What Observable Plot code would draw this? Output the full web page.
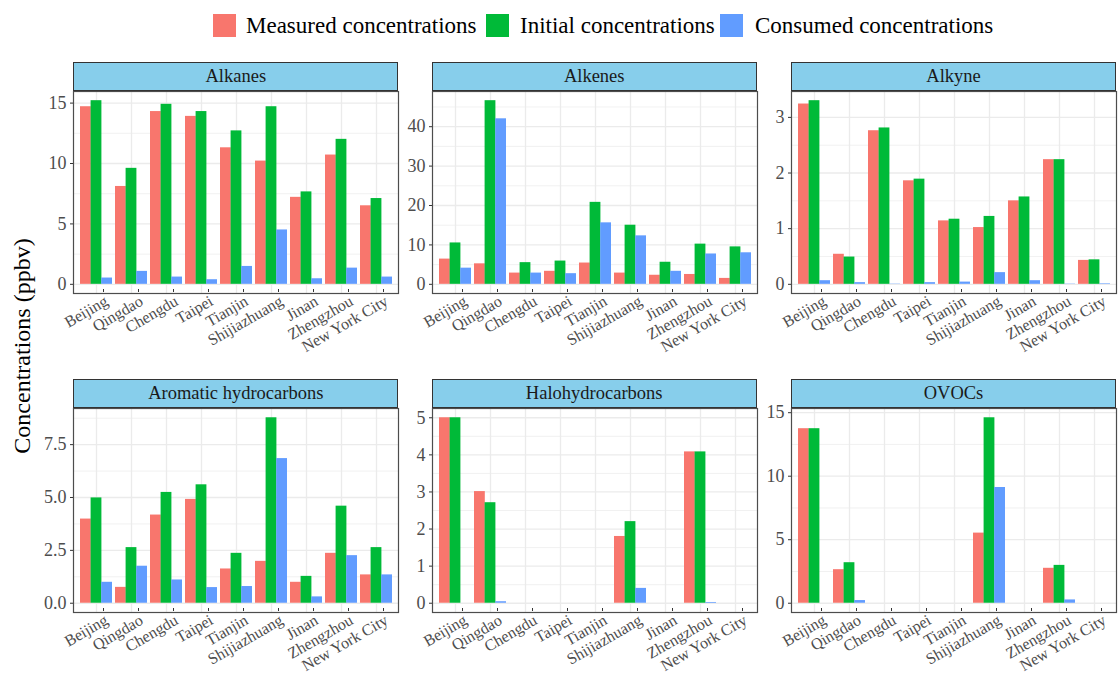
<!DOCTYPE html>
<html>
<head>
<meta charset="utf-8">
<script src="https://cdn.jsdelivr.net/npm/d3@7"></script>
<script src="https://cdn.jsdelivr.net/npm/@observablehq/plot@0.6"></script>
<style>
  body { margin: 0; background: #fff; }
  #root { position: relative; width: 1120px; height: 675px; overflow: hidden; font-family: "Liberation Serif", "Times New Roman", serif; background: #fff; }
  .strip { position: absolute; box-sizing: border-box; background: #87CEEB; border: 1px solid #333; color: #1a1a1a; font-size: 18.5px; text-align: center; line-height: 27px; }
  .plotbox { position: absolute; }
  .plotbox svg { overflow: visible; }
  .key { position: absolute; width: 23px; height: 23px; }
  .ktext { position: absolute; font-size: 23px; line-height: 24px; color: #000; white-space: nowrap; }
  #ytitle { position: absolute; font-size: 24px; color: #000; white-space: nowrap; transform: translate(-50%, -50%) rotate(-90deg); }
</style>
</head>
<body>
<div id="root"></div>
<script>
// ---------------- data ----------------
const cities = ["Beijing", "Qingdao", "Chengdu", "Taipei", "Tianjin", "Shijiazhuang", "Jinan", "Zhengzhou", "New York City"];
const seriesNames = ["Measured concentrations", "Initial concentrations", "Consumed concentrations"];
const seriesColors = ["#F8766D", "#00BA38", "#619CFF"];
const categories = ["Alkanes", "Alkenes", "Alkyne", "Aromatic hydrocarbons", "Halohydrocarbons", "OVOCs"];

const alkanesMeasured = [14.7, 8.1, 14.3, 13.9, 11.3, 10.2, 7.2, 10.7, 6.5];
const alkanesInitial  = [15.2, 9.6, 14.9, 14.3, 12.7, 14.7, 7.65, 12.0, 7.1];
const alkanesConsumed = [0.52, 1.07, 0.6, 0.38, 1.48, 4.5, 0.46, 1.34, 0.6];

const alkenesMeasured = [6.4, 5.2, 2.85, 3.3, 5.4, 2.85, 2.3, 2.5, 1.5];
const alkenesInitial  = [10.5, 46.6, 5.5, 5.9, 20.8, 15.0, 5.6, 10.2, 9.5];
const alkenesConsumed = [4.1, 42.0, 2.85, 2.7, 15.6, 12.3, 3.3, 7.7, 8.0];

const alkyneMeasured = [3.24, 0.54, 2.76, 1.86, 1.14, 1.02, 1.50, 2.24, 0.43];
const alkyneInitial  = [3.30, 0.49, 2.81, 1.89, 1.17, 1.22, 1.57, 2.24, 0.44];
const alkyneConsumed = [0.065, 0.03, 0.005, 0.03, 0.04, 0.21, 0.065, 0.005, 0.01];

const aromaticMeasured = [3.98, 0.75, 4.17, 4.91, 1.62, 1.98, 0.99, 2.36, 1.34];
const aromaticInitial  = [4.98, 2.63, 5.24, 5.6, 2.36, 8.77, 1.27, 4.59, 2.63];
const aromaticConsumed = [0.99, 1.75, 1.10, 0.74, 0.79, 6.84, 0.30, 2.25, 1.34];

const haloMeasured = [5.0, 3.01, null, null, null, 1.80, null, 4.08, null];
const haloInitial  = [5.0, 2.71, null, null, null, 2.20, null, 4.08, null];
const haloConsumed = [null, 0.04, null, null, null, 0.40, null, 0.02, null];

const ovocsMeasured = [13.74, 2.64, null, null, null, 5.52, null, 2.75, null];
const ovocsInitial  = [13.74, 3.19, null, null, null, 14.6, null, 2.98, null];
const ovocsConsumed = [null, 0.21, null, null, null, 9.11, null, 0.26, null];

const alkanesTicks = [0, 5, 10, 15];
const alkenesTicks = [0, 10, 20, 30, 40];
const alkyneTicks = [0, 1, 2, 3];
const aromaticTicks = [0, 2.5, 5, 7.5];
const haloTicks = [0, 1, 2, 3, 4, 5];
const ovocsTicks = [0, 5, 10, 15];

const yTitle = "Concentrations (ppbv)";

// ---------------- layout ----------------
const root = document.getElementById("root");
const colLeft = [73.3, 431.7, 791];
const PW = 325;
const stripTop = [62, 379];
const stripH = 29;
const plotH = [202, 204];
const ML = 30, MR = 3, MT = 1;
const MB = [80, 66];
const FONT = '"Liberation Serif", "Times New Roman", serif';

const panels = [
  {name: categories[0], values: [alkanesMeasured, alkanesInitial, alkanesConsumed], ticks: alkanesTicks, fmt: d3.format("d")},
  {name: categories[1], values: [alkenesMeasured, alkenesInitial, alkenesConsumed], ticks: alkenesTicks, fmt: d3.format("d")},
  {name: categories[2], values: [alkyneMeasured, alkyneInitial, alkyneConsumed], ticks: alkyneTicks, fmt: d3.format("d")},
  {name: categories[3], values: [aromaticMeasured, aromaticInitial, aromaticConsumed], ticks: aromaticTicks, fmt: d3.format(".1f")},
  {name: categories[4], values: [haloMeasured, haloInitial, haloConsumed], ticks: haloTicks, fmt: d3.format("d")},
  {name: categories[5], values: [ovocsMeasured, ovocsInitial, ovocsConsumed], ticks: ovocsTicks, fmt: d3.format("d")}
];

// legend
const keyX = [213, 486, 720];
const textX = [246, 520, 755];
seriesNames.forEach((s, j) => {
  const k = document.createElement("div");
  k.className = "key";
  k.style.left = keyX[j] + "px"; k.style.top = "14px"; k.style.background = seriesColors[j];
  root.appendChild(k);
  const t = document.createElement("div");
  t.className = "ktext";
  t.style.left = textX[j] + "px"; t.style.top = "14px";
  t.textContent = s;
  root.appendChild(t);
});

// y title
const yt = document.createElement("div");
yt.id = "ytitle";
yt.style.left = "22px"; yt.style.top = "346px";
yt.textContent = yTitle;
root.appendChild(yt);

panels.forEach((p, idx) => {
  const col = idx % 3, row = Math.floor(idx / 3);
  const data = [];
  p.values.forEach((arr, j) => arr.forEach((v, i) => {
    if (v != null) data.push({city: cities[i], type: seriesNames[j], j, value: v});
  }));
  const max = d3.max(data, d => d.value);
  const domain = [-0.05 * max, 1.05 * max];
  const step = p.ticks[1] - p.ticks[0];
  const minor = d3.range(p.ticks[0] + step / 2, domain[1], step);
  const bw = PW * 0.9 / 9.2;

  const bars = seriesNames.map((s, j) => Plot.barY(data.filter(d => d.j === j), {
    x: "city", y: "value", fill: seriesColors[j],
    insetLeft: bw * j / 3, insetRight: bw * (2 - j) / 3
  }));

  const chart = Plot.plot({
    width: ML + PW + MR,
    height: MT + plotH[row] + MB[row],
    marginLeft: ML, marginRight: MR, marginTop: MT, marginBottom: MB[row],
    style: {fontFamily: FONT, fontSize: "16px", background: "transparent", overflow: "visible"},
    x: {domain: cities, paddingInner: 0.1, paddingOuter: 0.15, align: 0.5},
    y: {domain},
    marks: [
      Plot.gridY(minor, {stroke: "#EBEBEB", strokeOpacity: 1, strokeWidth: 0.7}),
      Plot.gridY(p.ticks, {stroke: "#EBEBEB", strokeOpacity: 1, strokeWidth: 1.3}),
      Plot.gridX(cities, {stroke: "#EBEBEB", strokeOpacity: 1, strokeWidth: 1.3}),
      ...bars,
      Plot.frame({stroke: "#4d4d4d", strokeWidth: 1.2}),
      Plot.axisY(p.ticks, {tickSize: 3, tickPadding: 4, tickFormat: p.fmt, fill: "#4d4d4d", stroke: "#333", fontSize: 18, label: null}),
      Plot.axisX({tickSize: 3, tickPadding: 2, tickRotate: -30, textAnchor: "end", lineAnchor: "top", dx: 7, dy: -4, fill: "#4d4d4d", stroke: "#333", fontSize: 16, label: null})
    ]
  });

  const strip = document.createElement("div");
  strip.className = "strip";
  strip.style.left = colLeft[col] + "px";
  strip.style.top = stripTop[row] + "px";
  strip.style.width = PW + "px";
  strip.style.height = stripH + "px";
  strip.textContent = p.name;

  const box = document.createElement("div");
  box.className = "plotbox";
  box.style.left = (colLeft[col] - ML) + "px";
  box.style.top = (stripTop[row] + stripH - MT - 0.5) + "px";
  box.appendChild(chart);
  root.appendChild(box);
  root.appendChild(strip);
});
</script>
</body>
</html>
